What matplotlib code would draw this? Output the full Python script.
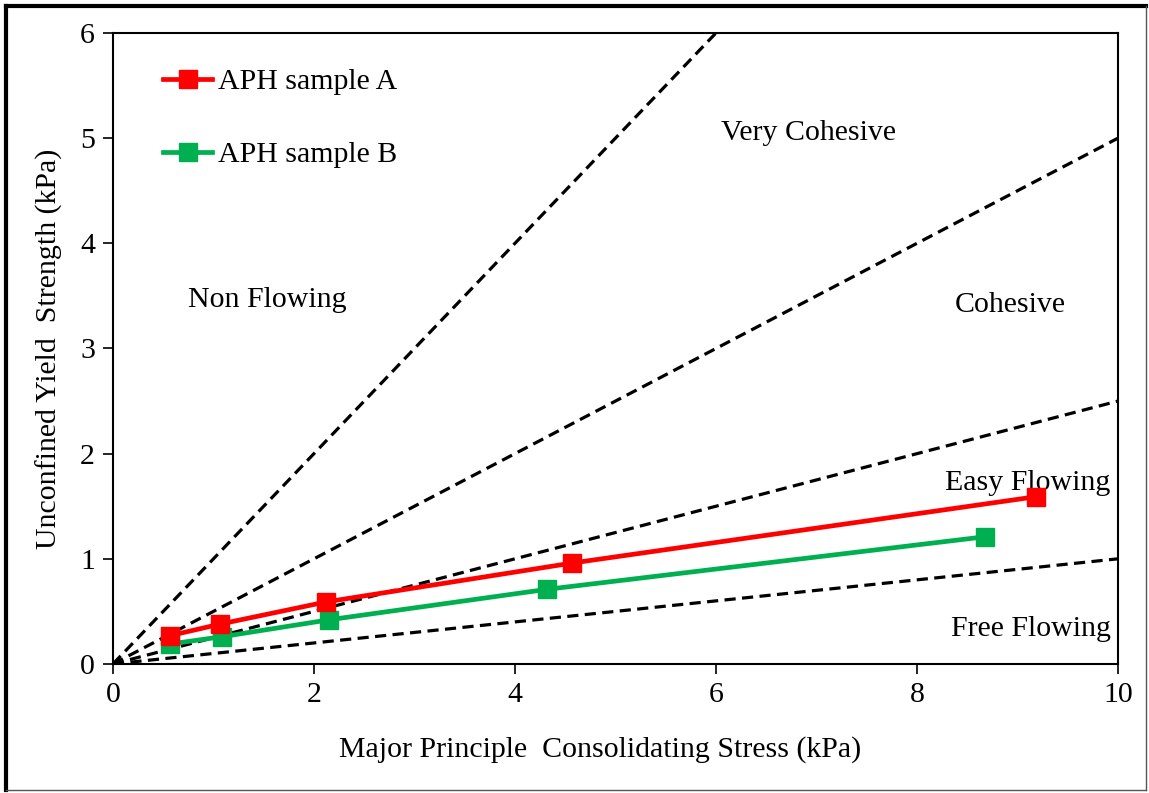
import numpy as np
import matplotlib
matplotlib.use("Agg")
from matplotlib import pyplot as plt
from matplotlib.lines import Line2D

plt.rcParams['font.family'] = ['Liberation Serif', 'DejaVu Serif']

# flow function boundaries (ffc = sigma1 / fc)
ffc_values = [1, 2, 4, 10]

# measured flow functions
sample_a_x = [0.57, 1.07, 2.12, 4.57, 9.18]
sample_a_y = [0.27, 0.38, 0.59, 0.96, 1.59]
sample_b_x = [0.57, 1.09, 2.15, 4.32, 8.68]
sample_b_y = [0.19, 0.26, 0.42, 0.71, 1.21]

region_labels = ["Non Flowing", "Very Cohesive", "Cohesive", "Easy Flowing", "Free Flowing"]
region_x = [1.54, 6.92, 8.93, 9.10, 9.13]
region_y = [3.46, 5.05, 3.41, 1.72, 0.33]

fs = 21.5

fig = plt.figure(figsize=(11.49, 7.93), dpi=100)
ax = fig.add_axes([0.0983, 0.1627, 0.8747, 0.7957])

# dashed boundary lines
xs = np.array([0, 10])
for ffc in ffc_values:
    ax.plot(xs, xs / ffc, color='black', linestyle=(0, (3.5, 2)), linewidth=2.3, zorder=2)

ax.plot(sample_a_x, sample_a_y, color='#ff0000', linewidth=3.4, marker='s',
        markersize=12.5, label='APH sample A', zorder=4)
ax.plot(sample_b_x, sample_b_y, color='#00b050', linewidth=3.4, marker='s',
        markersize=12.5, label='APH sample B', zorder=3)

for txt, tx, ty in zip(region_labels, region_x, region_y):
    ax.text(tx, ty, txt, fontsize=fs, ha='center', va='center')

ax.set_xlim(0, 10)
ax.set_ylim(0, 6)
ax.set_xticks([0, 2, 4, 6, 8, 10])
ax.set_yticks([0, 1, 2, 3, 4, 5, 6])
ax.tick_params(direction='out', length=7, width=1.2, labelsize=fs, pad=6)
for s in ax.spines.values():
    s.set_linewidth(1.5)

ax.set_xlabel('Major Principle  Consolidating Stress (kPa)', fontsize=fs)
ax.xaxis.set_label_coords(0.485, -0.115)
ax.set_ylabel('Unconfined Yield  Strength (kPa)', fontsize=fs, labelpad=12)

ax.legend(loc='upper left', bbox_to_anchor=(0.05, 0.944), frameon=False, fontsize=fs,
          labelspacing=1.55, handlelength=1.65, handletextpad=0.2, borderpad=0,
          borderaxespad=0)

# outer border like the source screenshot
W, H = 1149, 793
fig.add_artist(Line2D([6 / W, 6 / W], [1 - 6 / H, 1 - 790 / H], color='black', linewidth=3))
fig.add_artist(Line2D([6 / W, 1146 / W], [1 - 6 / H, 1 - 6 / H], color='black', linewidth=3))
fig.add_artist(Line2D([1146 / W, 1146 / W], [1 - 6 / H, 1 - 790 / H], color='#555555', linewidth=1))
fig.add_artist(Line2D([6 / W, 1146 / W], [1 - 790 / H, 1 - 790 / H], color='#555555', linewidth=1))

fig.savefig('out.png', dpi=100)
